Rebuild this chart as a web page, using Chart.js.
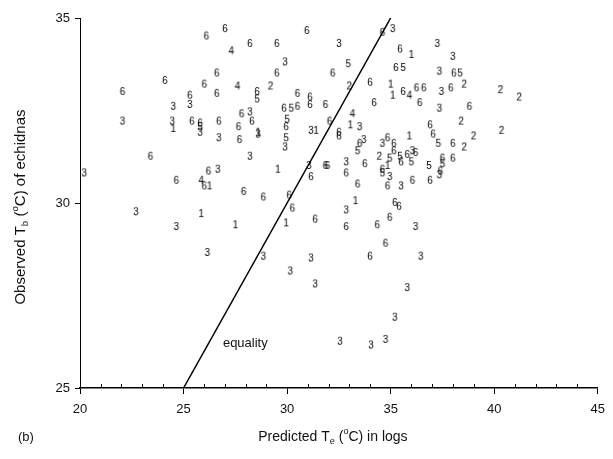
<!DOCTYPE html>
<html>
<head>
<meta charset="utf-8">
<script src="https://cdn.jsdelivr.net/npm/chart.js@4/dist/chart.umd.min.js"></script>
<style>
  html, body { margin: 0; padding: 0; background: #fff; }
  #wrap { width: 613px; height: 459px; }
</style>
</head>
<body>
<div id="wrap"><canvas id="chart" width="613" height="459"></canvas></div>
<script>
// axis ranges and tick labels
const xTicks = [20, 25, 30, 35, 40, 45];
const yTicks = [25, 30, 35];
const equality = [[25, 25], [35, 35]];

// points grouped by the digit that marks them, [predicted, observed]
const pts1 = [[28.6,31.9],[31.4,31.95],[36.0,34.0],[35.0,33.2],[35.1,32.9],[33.05,32.1],[24.5,32.0],
  [26.25,30.45],[25.85,29.7],[29.55,30.9],[29.95,29.45],[27.5,29.4],[35.9,31.8],[34.85,31.0],[33.3,30.05]];
const pts2 = [[29.2,33.15],[33.0,33.15],[38.55,33.2],[40.3,33.05],[41.2,32.85],[38.4,32.2],[40.35,31.95],
  [39.0,31.8],[38.55,31.5],[34.45,31.25]];
const pts3 = [[24.5,32.6],[25.3,32.65],[22.05,32.2],[24.45,32.2],[29.9,33.8],[28.2,32.45],[31.15,31.95],
  [35.1,34.7],[32.5,34.3],[37.25,34.3],[37.35,33.55],[37.45,33.0],[37.35,32.55],[33.5,32.05],[38.0,33.95],
  [25.8,31.9],[20.2,30.8],[22.7,29.75],[24.65,29.35],[26.7,31.75],[28.6,31.85],[29.9,31.5],[28.2,31.25],
  [26.65,30.9],[31.05,31.0],[33.7,31.7],[34.6,31.6],[36.05,31.4],[32.85,31.1],[34.95,30.7],[35.5,30.45],
  [32.85,29.8],[36.2,29.35],[26.15,28.65],[28.85,28.55],[31.15,28.5],[36.45,28.55],[30.15,28.15],
  [31.35,27.8],[35.8,27.7],[35.2,26.9],[32.55,26.25],[34.05,26.15],[34.75,26.3],[37.35,30.75]];
const pts4 = [[27.3,34.1],[27.6,33.15],[35.9,32.9],[33.15,32.4],[25.85,30.6]];
const pts5 = [[28.55,32.8],[30.2,32.55],[30.0,32.25],[25.8,32.05],[32.95,33.75],[35.6,33.65],[38.35,33.5],
  [29.95,31.75],[33.4,31.4],[35.45,31.25],[34.95,31.2],[34.6,30.8],[36.0,31.1],[36.85,31.0],[37.3,31.6],
  [37.5,31.05]];
const pts6 = [[26.1,34.5],[24.1,33.3],[26.0,33.2],[22.05,33.0],[25.3,32.9],[25.4,32.2],[27.0,34.7],
  [30.95,34.65],[28.2,34.3],[29.5,34.3],[26.6,33.5],[29.5,33.5],[26.6,32.95],[28.55,33.0],[30.5,32.95],
  [31.1,32.85],[31.1,32.65],[31.85,32.65],[29.85,32.55],[30.5,32.6],[29.95,32.05],[27.8,32.4],[28.3,32.2],
  [26.7,32.2],[27.65,32.05],[25.8,32.15],[34.6,34.6],[35.45,34.15],[35.25,33.65],[34.0,33.25],[35.6,33.0],
  [36.25,33.1],[36.6,33.1],[36.4,32.7],[32.2,33.5],[34.2,32.7],[32.05,32.2],[36.9,32.1],[32.5,31.9],
  [38.05,33.5],[37.9,33.1],[38.8,32.6],[38.0,31.6],[38.0,31.2],[37.5,31.2],[37.4,30.85],[23.4,31.25],
  [24.65,30.6],[26.0,30.45],[26.2,30.85],[27.7,31.7],[27.9,30.3],[28.85,30.15],[30.1,30.2],[30.25,29.85],
  [31.35,29.55],[31.15,30.7],[31.85,31.0],[32.5,31.8],[33.5,31.6],[34.85,31.75],[35.15,31.6],[37.05,31.85],
  [35.15,31.4],[35.8,31.3],[36.2,31.35],[31.95,31.0],[32.85,30.8],[33.75,31.05],[34.6,30.9],[35.5,31.1],
  [34.85,30.45],[36.05,30.6],[36.9,30.6],[33.4,30.5],[35.2,30.0],[35.4,29.9],[34.95,29.6],[32.85,29.35],
  [34.35,29.4],[34.75,28.9],[34.0,28.55]];

const FONT = "'Liberation Sans', Arial, sans-serif";

// little canvas with a digit, used as the point style
function digitMark(d) {
    const c = document.createElement("canvas");
    c.width = 8; c.height = 12;
    const g = c.getContext("2d");
    g.fillStyle = "#000";
    g.font = "10px " + FONT;
    g.textAlign = "center";
    g.textBaseline = "middle";
    g.fillText(d, 4, 6.5);
    return c;
}

function digitSet(d, pts) {
    return {
        label: d,
        type: "scatter",
        data: pts.map(p => ({x: p[0], y: p[1]})),
        pointStyle: digitMark(d),
        pointRadius: 5
    };
}

// draws text with sub/superscript parts
function richText(ctx, parts, size) {
    let w = 0;
    parts.forEach(p => {
        ctx.font = (p.s ? size * 0.65 : size) + "px " + FONT;
        p.w = ctx.measureText(p.t).width;
        w += p.w;
    });
    let x = -w / 2;
    parts.forEach(p => {
        ctx.font = (p.s ? size * 0.65 : size) + "px " + FONT;
        const dy = p.s === "sub" ? size * 0.3 : p.s === "sup" ? -size * 0.4 : 0;
        ctx.fillText(p.t, x, dy);
        x += p.w;
    });
}

const extras = {
    id: "extras",
    afterDraw(chart) {
        const ctx = chart.ctx;
        const xs = chart.scales.x, ys = chart.scales.y;
        const area = chart.chartArea;
        ctx.save();
        ctx.fillStyle = "#111";
        ctx.textBaseline = "middle";

        // minor ticks, inside the x axis
        ctx.strokeStyle = "#000";
        ctx.lineWidth = 1;
        xs.ticks.forEach(t => {
            if (t.value % 5 === 0) return;
            const px = Math.round(xs.getPixelForValue(t.value)) + 0.5;
            ctx.beginPath();
            ctx.moveTo(px, area.bottom);
            ctx.lineTo(px, area.bottom - 4);
            ctx.stroke();
        });

        // equality label
        ctx.font = "13px " + FONT;
        ctx.textAlign = "left";
        ctx.fillText("equality", xs.getPixelForValue(26.9), ys.getPixelForValue(26.2));

        // axis titles
        ctx.save();
        ctx.translate((area.left + area.right) / 2 - 6, 437);
        richText(ctx, [{t: "Predicted T"}, {t: "e", s: "sub"}, {t: " ("}, {t: "o", s: "sup"}, {t: "C) in logs"}], 14);
        ctx.restore();

        ctx.save();
        ctx.translate(21, (area.top + area.bottom) / 2 + 4);
        ctx.rotate(-Math.PI / 2);
        richText(ctx, [{t: "Observed T"}, {t: "b", s: "sub"}, {t: " ("}, {t: "o", s: "sup"}, {t: "C) of echidnas"}], 15);
        ctx.restore();

        ctx.font = "13px " + FONT;
        ctx.textAlign = "left";
        ctx.fillText("(b)", 18, 437);
        ctx.restore();
    }
};

new Chart(document.getElementById("chart"), {
    data: {
        datasets: [
            {
                label: "equality",
                type: "line",
                data: equality.map(p => ({x: p[0], y: p[1]})),
                borderColor: "#000",
                borderWidth: 1.5,
                pointRadius: 0,
                fill: false
            },
            digitSet("1", pts1),
            digitSet("2", pts2),
            digitSet("3", pts3),
            digitSet("4", pts4),
            digitSet("5", pts5),
            digitSet("6", pts6)
        ]
    },
    options: {
        responsive: false,
        animation: false,
        events: [],
        layout: {padding: {top: 18, right: 10, left: 0, bottom: 0}},
        plugins: {legend: {display: false}, tooltip: {enabled: false}},
        scales: {
            x: {
                type: "linear",
                min: xTicks[0],
                max: xTicks[xTicks.length - 1],
                afterFit: s => { s.height = 71; },
                border: {color: "#000", width: 1.5},
                grid: {
                    drawOnChartArea: false,
                    tickLength: 6,
                    color: c => (c.tick && c.tick.value % 5 === 0) ? "#000" : "rgba(0,0,0,0)"
                },
                ticks: {
                    stepSize: 1,
                    padding: 8,
                    maxRotation: 0,
                    autoSkip: false,
                    color: "#111",
                    font: {family: FONT, size: 13},
                    callback: v => xTicks.includes(v) ? String(v) : ""
                }
            },
            y: {
                type: "linear",
                min: yTicks[0],
                max: yTicks[yTicks.length - 1],
                afterFit: s => { s.width = 80; },
                border: {color: "#000", width: 1},
                grid: {drawOnChartArea: false, tickLength: 5, color: "#000"},
                ticks: {
                    stepSize: 5,
                    padding: 5,
                    color: "#111",
                    font: {family: FONT, size: 13},
                    callback: v => yTicks.includes(v) ? String(v) : ""
                }
            }
        }
    },
    plugins: [extras]
});
</script>
</body>
</html>
